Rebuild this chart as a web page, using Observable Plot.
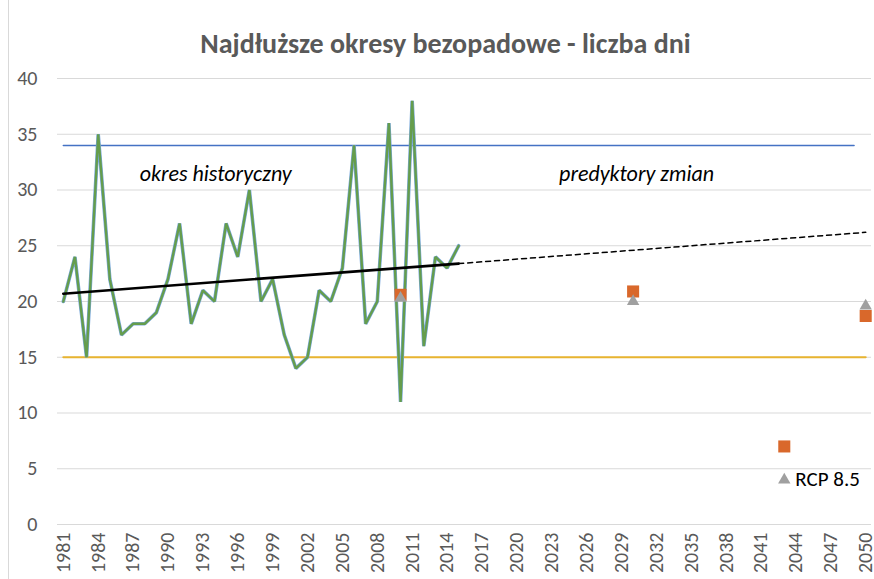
<!DOCTYPE html>
<html>
<head>
<meta charset="utf-8">
<script src="https://cdn.jsdelivr.net/npm/d3@7"></script>
<script src="https://cdn.jsdelivr.net/npm/@observablehq/plot@0.6"></script>
<style>
  html, body { margin: 0; padding: 0; background: #fff; }
  #wrap { position: relative; width: 874px; height: 579px; }
  #border { position: absolute; left: 8px; top: 0; width: 1px; height: 579px; background: #d9d9d9; }
</style>
</head>
<body>
<div id="wrap"><div id="border"></div><div id="chart"></div></div>
<script>
// ---- data ----
const titleText = "Najdłuższe okresy bezopadowe - liczba dni";
const years = [1981,1982,1983,1984,1985,1986,1987,1988,1989,1990,1991,1992,1993,1994,1995,1996,1997,1998,1999,2000,2001,2002,2003,2004,2005,2006,2007,2008,2009,2010,2011,2012,2013,2014,2015];
const days  = [20,24,15,35,22,17,18,18,19,22,27,18,21,20,27,24,30,20,22,17,14,15,21,20,23,34,18,20,36,11,38,16,24,23,25];
const trendSolidYears = [1981, 2015];
const trendSolidValues = [20.7, 23.4];
const trendDashYears = [2015, 2050];
const trendDashValues = [23.4, 26.2];
const maxLineYears = [1981, 2049];
const maxLineValue = 34;
const minLineYears = [1981, 2050];
const minLineValue = 15;
const squareYears = [2010, 2030, 2043, 2050];
const squareValues = [20.6, 20.9, 7.0, 18.7];
const triangleYears = [2010, 2030, 2043, 2050];
const triangleValues = [20.3, 20.0, 4.0, 19.6];
const rcpLabel = "RCP 8.5";
const annotations = [
  {year: 1994.1, value: 30.85, label: "okres historyczny"},
  {year: 2030.3, value: 30.85, label: "predyktory zmian"}
];
const xTickYears = [1981,1984,1987,1990,1993,1996,1999,2002,2005,2008,2011,2014,2017,2020,2023,2026,2029,2032,2035,2038,2041,2044,2047,2050];
const yTicks = [0,5,10,15,20,25,30,35,40];

// ---- build tables ----
const hist = years.map((y, i) => ({year: y, value: days[i]}));
const trendSolid = trendSolidYears.map((y, i) => ({year: y, value: trendSolidValues[i]}));
const trendDash = trendDashYears.map((y, i) => ({year: y, value: trendDashValues[i]}));
const maxLine = maxLineYears.map(y => ({year: y, value: maxLineValue}));
const minLine = minLineYears.map(y => ({year: y, value: minLineValue}));
const squares = squareYears.map((y, i) => ({year: y, value: squareValues[i]}));
const triangles = triangleYears.map((y, i) => ({year: y, value: triangleValues[i]}));
const rcp = [{year: triangleYears[2], value: triangleValues[2], label: rcpLabel}];

const font = "Carlito, Lato, 'Open Sans', sans-serif";
const gray = "#595959";

const chart = Plot.plot({
  width: 874,
  height: 579,
  marginLeft: 57,
  marginRight: 3,
  marginTop: 78,
  marginBottom: 55,
  style: {fontFamily: font, fontSize: "20px", color: gray, background: "transparent"},
  x: {type: "linear", domain: [1980.5, 2050.5]},
  y: {domain: [0, 40]},
  marks: [
    Plot.gridY(yTicks, {stroke: "#d9d9d9", strokeOpacity: 1, strokeWidth: 1.2}),
    Plot.axisY(yTicks, {tickSize: 0, tickPadding: 20, fill: gray, fontSize: 20, label: null}),
    Plot.axisX(xTickYears, {tickSize: 0, tickPadding: 8, tickRotate: -90, tickFormat: d => String(d), fill: gray, fontSize: 20, label: null}),
    Plot.line(maxLine, {x: "year", y: "value", stroke: "#4472c4", strokeWidth: 1.5}),
    Plot.line(minLine, {x: "year", y: "value", stroke: "#e8b430", strokeWidth: 2}),
    Plot.line(hist, {x: "year", y: "value", stroke: "#7aa8dc", strokeWidth: 3.6, strokeLinejoin: "miter"}),
    Plot.line(hist, {x: "year", y: "value", stroke: "#659d4c", strokeWidth: 2.4, strokeLinejoin: "miter"}),
    Plot.line(trendSolid, {x: "year", y: "value", stroke: "#000", strokeWidth: 2.6}),
    Plot.line(trendDash, {x: "year", y: "value", stroke: "#000", strokeWidth: 1.5, strokeDasharray: "5,4"}),
    Plot.dot(squares, {x: "year", y: "value", symbol: "square", r: 6.8, fill: "#d9682b", stroke: "none"}),
    Plot.dot(triangles, {x: "year", y: "value", symbol: "triangle", r: 4.6, fill: "#a0a0a0", stroke: "none"}),
    Plot.text(rcp, {x: "year", y: "value", text: "label", dx: 11, dy: -1, textAnchor: "start", fill: "#000", fontSize: 21}),
    Plot.text(annotations, {x: "year", y: "value", text: "label", lineAnchor: "bottom", fontStyle: "italic", fontSize: 22, fill: "#000"}),
    Plot.text([titleText], {frameAnchor: "top", lineAnchor: "bottom", dy: -26, dx: -19, fontWeight: "bold", fontSize: 28, fill: gray})
  ]
});
document.getElementById("chart").appendChild(chart);
</script>
</body>
</html>
